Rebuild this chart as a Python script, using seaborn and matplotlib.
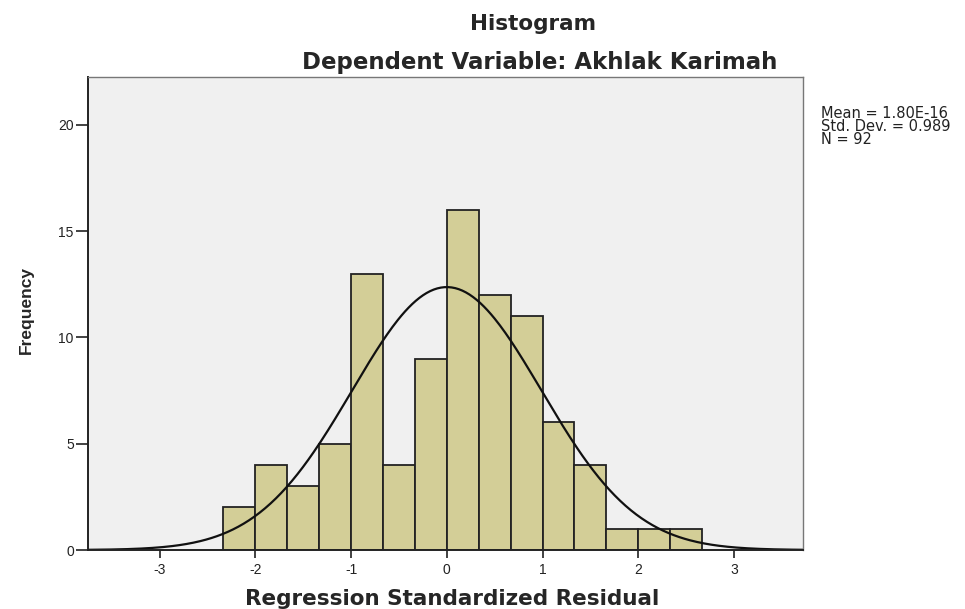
import numpy as np
import pandas as pd
import matplotlib
matplotlib.use("Agg")
import matplotlib.pyplot as plt
import seaborn as sns

# ---- data ----
bin_start = -7 / 3
bin_width = 1 / 3
counts = [2, 4, 3, 5, 13, 4, 9, 16, 12, 11, 6, 4, 1, 1, 1]
mean_val = 1.80e-16
std_val = 0.989
n_obs = 92
x_ticks = [-3, -2, -1, 0, 1, 2, 3]
y_ticks = [0, 5, 10, 15, 20]
stats_lines = ["Mean = 1.80E-16", "Std. Dev. = 0.989", "N = 92"]

edges = [bin_start + i * bin_width for i in range(len(counts) + 1)]
centers = [bin_start + (i + 0.5) * bin_width for i in range(len(counts))]
df = pd.DataFrame({"resid": centers, "freq": counts})

sns.set_style("white")
plt.rcParams["font.family"] = ["Liberation Sans", "DejaVu Sans"]

W, H = 965, 609
def fx(px):
    return px / W
def fy(py):
    return 1 - py / H

fig = plt.figure(figsize=(9.65, 6.09), dpi=100)
ax = fig.add_axes([fx(87.7), fy(550), (803 - 87.7) / W, (550 - 76.7) / H])
ax.set_facecolor("#F0F0F0")

sns.histplot(data=df, x="resid", weights="freq", bins=edges, ax=ax,
             color="#D3CE97", alpha=1.0, edgecolor="#222222", linewidth=1.3)

xs = np.linspace(-3.75, 3.72, 400)
ys = n_obs * bin_width / (std_val * np.sqrt(2 * np.pi)) * np.exp(-0.5 * ((xs - mean_val) / std_val) ** 2)
sns.lineplot(x=xs, y=ys, ax=ax, color="#111111", linewidth=1.6)

ax.set_xlim(-3.75, 3.72)
ax.set_ylim(0, 22.27)
ax.set_xticks(x_ticks)
ax.set_xticklabels([str(t) for t in x_ticks])
ax.set_yticks(y_ticks)
ax.set_yticklabels([str(t) for t in y_ticks])
ax.tick_params(axis="x", direction="out", length=6, width=1.3, color="#333333",
               labelsize=10, labelcolor="#222222", pad=3, bottom=True)
ax.tick_params(axis="y", direction="out", length=9, width=1.3, color="#333333",
               labelsize=10, labelcolor="#222222", pad=1, left=True)

for side in ["left", "bottom"]:
    ax.spines[side].set_color("#222222")
    ax.spines[side].set_linewidth(1.4)
for side in ["top", "right"]:
    ax.spines[side].set_color("#777777")
    ax.spines[side].set_linewidth(1.0)

ax.set_xlabel("")
ax.set_ylabel("")

bold_wide = ["DejaVu Sans"]
fig.text(fx(452), fy(605), "Regression Standardized Residual", ha="center", va="baseline",
         fontsize=15.5, fontweight="bold", family=bold_wide)
fig.text(fx(26), fy(310), "Frequency", rotation=90, ha="center", va="center",
         fontsize=12.5, fontweight="bold", family=["Liberation Sans", "DejaVu Sans"])
fig.text(fx(533), fy(30), "Histogram", ha="center", va="baseline",
         fontsize=15.5, fontweight="bold", family=bold_wide)
fig.text(fx(540), fy(69), "Dependent Variable: Akhlak Karimah", ha="center", va="baseline",
         fontsize=16.5, fontweight="bold", family=bold_wide)

fig.text(fx(821), fy(106), "\n".join(stats_lines), ha="left", va="top",
         fontsize=10.5, linespacing=0.83, color="#222222", family=["DejaVu Sans"])

fig.savefig("out.png", dpi=100)
